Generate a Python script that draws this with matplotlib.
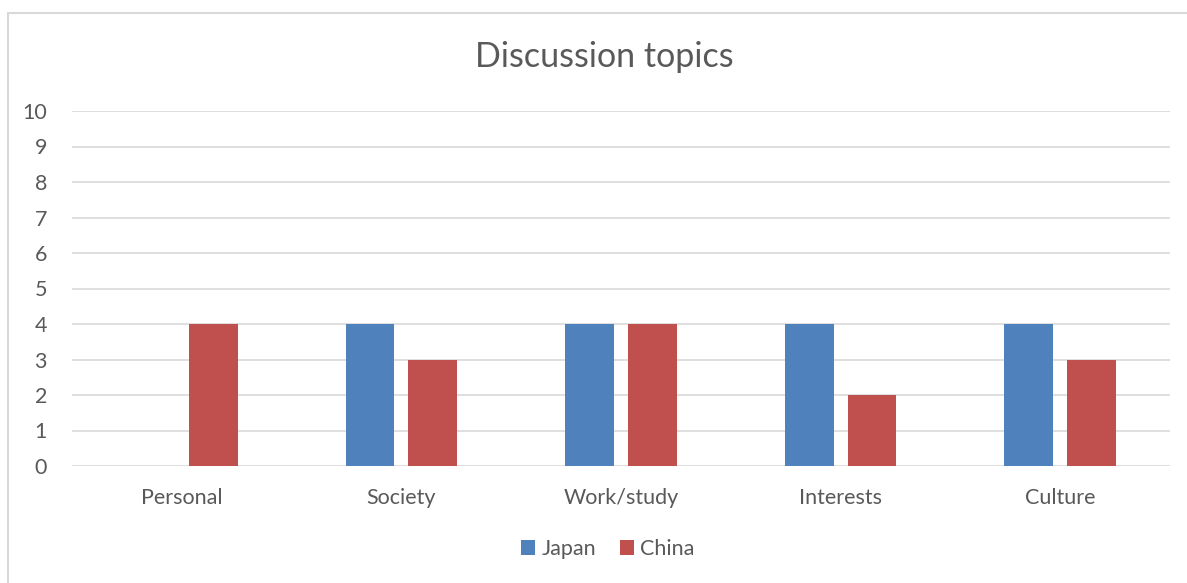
import matplotlib
matplotlib.use("Agg")
import matplotlib.pyplot as plt
import numpy as np
from matplotlib.patches import Rectangle

categories = ["Personal", "Society", "Work/study", "Interests", "Culture"]
japan = [0, 4, 4, 4, 4]
china = [4, 3, 4, 2, 3]
yticks = list(range(0, 11))

plt.rcParams['font.family'] = ['Lato', 'DejaVu Sans']
txt = '#595959'

fig = plt.figure(figsize=(11.87, 5.83), dpi=100)
fig.patches.append(Rectangle((8/1187, -0.1), 1.2, 1 - 13/583 + 0.1, transform=fig.transFigure,
                             fill=False, edgecolor='#d9d9d9', linewidth=1.5))
ax = fig.add_axes([72/1187, 1 - 466/583, (1170 - 72)/1187, (466 - 111)/583])

x = np.arange(len(categories))
w = 0.223
off = 0.143
ax.bar(x - off, japan, w, color='#4F81BD', label='Japan', zorder=3)
ax.bar(x + off, china, w, color='#C0504D', label='China', zorder=3)

ax.set_xlim(-0.5, len(categories) - 0.5)
ax.set_ylim(0, 10)
ax.set_yticks(yticks)
ax.yaxis.grid(True, color='#d9d9d9', linewidth=1.2, zorder=0)
for s in ax.spines.values():
    s.set_visible(False)
ax.tick_params(axis='both', length=0, colors=txt, labelsize=15.5)
ax.tick_params(axis='y', pad=18)
ax.tick_params(axis='x', pad=16)
ax.set_xticks(x)
ax.set_xticklabels(categories)
for lab in ax.get_yticklabels():
    lab.set_horizontalalignment('right')

fig.text(604/1187, 1 - 57/583, "Discussion topics", ha='center', va='center', fontsize=24.5, color=txt)

leg = fig.legend(loc='center', bbox_to_anchor=(608/1187, 1 - 549/583), ncol=2, frameon=False,
                 fontsize=15.5, handlelength=0.65, handleheight=0.65, handletextpad=0.3, columnspacing=1.1)
for t in leg.get_texts():
    t.set_color(txt)

fig.savefig("out.png", dpi=100)
